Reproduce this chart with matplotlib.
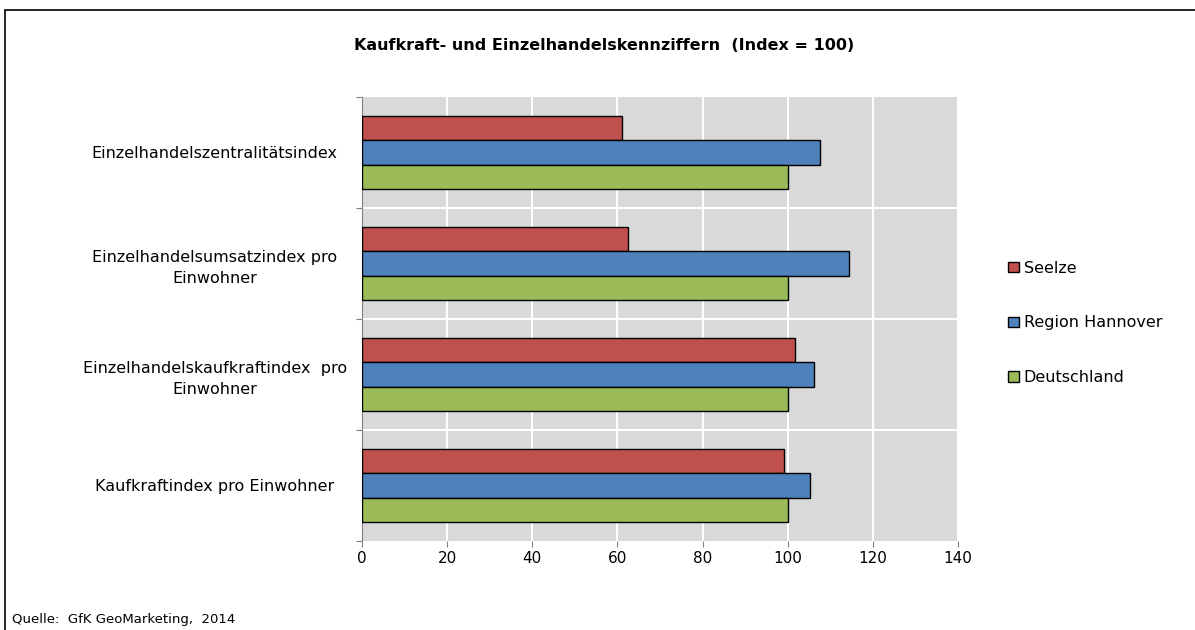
import matplotlib.pyplot as plt
import numpy as np

plt.rcParams['font.family'] = ['DejaVu Sans']

categories = ['Einzelhandelszentralitätsindex',
              'Einzelhandelsumsatzindex pro\nEinwohner',
              'Einzelhandelskaufkraftindex  pro\nEinwohner',
              'Kaufkraftindex pro Einwohner']
seelze = [61.1, 62.4, 101.8, 99.1]
hannover = [107.7, 114.4, 106.1, 105.3]
deutschland = [100, 100, 100, 100]
series = ['Seelze', 'Region Hannover', 'Deutschland']
colors = ['#C0504D', '#4F81BD', '#9BBB59']

fig = plt.figure(figsize=(11.95, 6.3), dpi=100)
ax = fig.add_axes([362 / 1195, 1 - 541 / 630, 596 / 1195, 444 / 630])
ax.set_facecolor('#D9D9D9')

y = np.arange(len(categories))
h = 0.222
for k, (vals, name, c) in enumerate(zip([seelze, hannover, deutschland], series, colors)):
    ax.barh(y + (k - 1) * h, vals, height=h, color=c, edgecolor='black',
            linewidth=1.0, label=name, zorder=3)

ax.set_xlim(0, 140)
ax.set_ylim(3.5, -0.5)
ax.set_xticks(np.arange(0, 141, 20))
ax.xaxis.grid(True, color='white', linewidth=1.5, zorder=0)
ax.set_yticks(np.arange(-0.5, 4, 1), minor=False)
ax.set_yticklabels([])
ax.set_yticks(y, minor=True)
ax.set_yticklabels(categories, minor=True, ha='center', fontsize=11.5,
                   linespacing=1.5)
ax.tick_params(axis='y', which='minor', length=0, pad=106)
ax.tick_params(axis='y', which='major', length=4, color='#808080')
ax.tick_params(axis='x', length=4, color='#808080', labelsize=11)
# horizontal separators between groups
for b in np.arange(0.5, 3.5, 1):
    ax.axhline(b, color='white', linewidth=1.5, zorder=1)
for s in ['top', 'right']:
    ax.spines[s].set_visible(False)
ax.spines['bottom'].set_visible(False)
ax.spines['left'].set_color('#808080')

ax.legend(loc='center left', bbox_to_anchor=(994 / 1195, 1 - 323 / 630),
          bbox_transform=fig.transFigure, frameon=False, fontsize=11.5,
          handlelength=0.65, handleheight=0.65, handletextpad=0.3,
          labelspacing=2.5)

fig.text(604 / 1195, 1 - 46 / 630, 'Kaufkraft- und Einzelhandelskennziffern  (Index = 100)',
         ha='center', va='center', fontsize=11.5, fontweight='bold')
fig.text(12 / 1195, 1 - 620 / 630, 'Quelle:  GfK GeoMarketing,  2014',
         ha='left', va='center', fontsize=9.5)

border = plt.Rectangle((5 / 1195, -0.01), 1.05, 1 - 10 / 630 + 0.01,
                       transform=fig.transFigure, fill=False,
                       edgecolor='black', linewidth=1.2)
fig.patches.append(border)

fig.savefig('out.png', dpi=100)
